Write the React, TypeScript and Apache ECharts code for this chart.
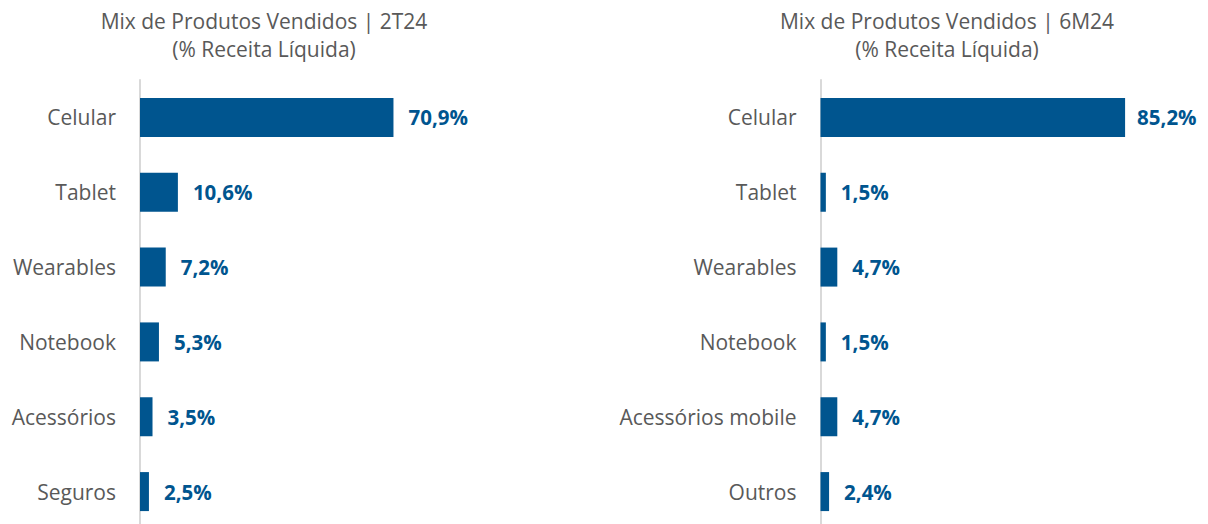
import React, { useEffect, useRef } from "react";
import * as echarts from "echarts";

const leftTitle = "Mix de Produtos Vendidos | 2T24\n(% Receita Líquida)";
const rightTitle = "Mix de Produtos Vendidos | 6M24\n(% Receita Líquida)";
const leftCategories = ["Celular", "Tablet", "Wearables", "Notebook", "Acessórios", "Seguros"];
const leftValues = [70.9, 10.6, 7.2, 5.3, 3.5, 2.5];
const rightCategories = ["Celular", "Tablet", "Wearables", "Notebook", "Acessórios mobile", "Outros"];
const rightValues = [85.2, 1.5, 4.7, 1.5, 4.7, 2.4];

const BAR = "#00558F";
const GRAY = "#595959";
const FONT = "'Open Sans', 'Noto Sans', sans-serif";

const fmt = (v: number) => `${v.toFixed(1).replace(".", ",")}%`;

export default function App() {
  const ref = useRef<HTMLDivElement>(null);
  useEffect(() => {
    if (!ref.current) return;
    const chart = echarts.init(ref.current, null, { renderer: "svg" });
    const grids = [
      { left: 140, top: 80, width: 357.5, height: 449 },
      { left: 820.5, top: 80, width: 357.5, height: 449 },
    ];
    const yAxis = [leftCategories, rightCategories].map((cats, i) => ({
      type: "category",
      gridIndex: i,
      data: cats,
      inverse: true,
      offset: 2,
      axisLine: { show: true, lineStyle: { color: "#D9D9D9", width: 2 } },
      axisTick: { show: false },
      axisLabel: { color: GRAY, fontSize: 21, fontFamily: FONT, margin: 22 },
      splitLine: { show: false },
    }));
    const xAxis = [0, 1].map((i) => ({
      type: "value",
      gridIndex: i,
      min: 0,
      max: 100,
      show: false,
      splitLine: { show: false },
    }));
    const series = [leftValues, rightValues].map((vals, i) => ({
      type: "bar",
      xAxisIndex: i,
      yAxisIndex: i,
      data: vals.map((v, j) =>
        i === 1 && j === 0 ? { value: v, label: { distance: 12 } } : v
      ),
      barWidth: 39,
      itemStyle: { color: BAR },
      label: {
        show: true,
        position: "right",
        distance: 15,
        formatter: (p: any) => fmt(p.value),
        color: BAR,
        fontSize: 20.5,
        fontWeight: "bold",
        fontFamily: FONT,
      },
    }));
    chart.setOption({
      animation: false,
      grid: grids,
      xAxis,
      yAxis,
      series,
      graphic: [
        {
          type: "text",
          x: 264,
          y: 7,
          style: {
            text: leftTitle,
            textAlign: "center",
            textVerticalAlign: "top",
            fill: GRAY,
            fontSize: 21,
            fontFamily: FONT,
            lineHeight: 28,
          },
        },
        {
          type: "text",
          x: 947,
          y: 7,
          style: {
            text: rightTitle,
            textAlign: "center",
            textVerticalAlign: "top",
            fill: GRAY,
            fontSize: 21,
            fontFamily: FONT,
            lineHeight: 28,
          },
        },
      ],
    });
    return () => chart.dispose();
  }, []);
  return (
    <div
      style={{ position: "fixed", left: 0, top: 0, width: 1208, height: 524, overflow: "hidden", background: "#fff" }}
    >
      <div ref={ref} style={{ width: 1208, height: 540 }} />
    </div>
  );
}
